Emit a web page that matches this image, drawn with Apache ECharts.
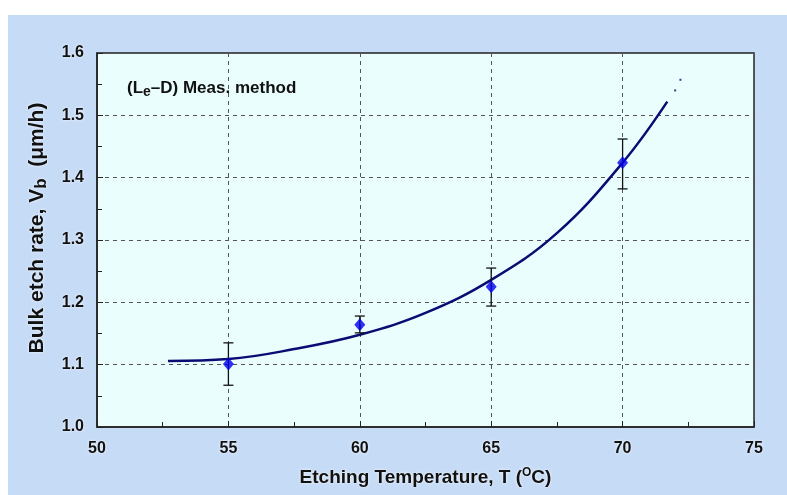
<!DOCTYPE html>
<html>
<head>
<meta charset="utf-8">
<script src="https://cdn.jsdelivr.net/npm/echarts@6/dist/echarts.min.js"></script>
<style>
  html, body { margin: 0; padding: 0; background: #fff; }
  #wrap { position: relative; width: 787px; height: 495px; }
  #bg { position: absolute; left: 8px; top: 15px; right: 0; bottom: 0; background: #c6dbf6; }
  #chart { position: absolute; left: 0; top: 0; width: 787px; height: 495px; }
</style>
</head>
<body>
<div id="wrap"><div id="bg"></div><div id="chart"></div></div>
<script>
// measured points
var temps = [55, 60, 65, 70];
var rates = [1.101, 1.164, 1.225, 1.424];
var errLow = [1.067, 1.151, 1.194, 1.382];
var errHigh = [1.135, 1.178, 1.255, 1.462];

// fitted curve
var fitX = [52.7, 55, 57.5, 60, 62.5, 65, 67.5, 70, 71.7];
var fitY = [1.106, 1.109, 1.125, 1.148, 1.183, 1.236, 1.311, 1.424, 1.522];
var tailX = [72.0, 72.2];
var tailY = [1.54, 1.557];

var xTicks = [50, 55, 60, 65, 70, 75];
var yTicks = [1.0, 1.1, 1.2, 1.3, 1.4, 1.5, 1.6];

var FONT = '"Liberation Sans", Arial, sans-serif';
var glow = { textShadowColor: 'rgba(255,255,255,0.95)', textShadowBlur: 3 };

var myChart = echarts.init(document.getElementById('chart'), null, { renderer: 'canvas' });

var fitData = fitX.map(function (x, i) { return [x, fitY[i]]; });
var tailData = tailX.map(function (x, i) { return [x, tailY[i]]; });
var pts = temps.map(function (x, i) { return [x, rates[i]]; });
var errData = temps.map(function (x, i) { return [x, errLow[i], errHigh[i]]; });

var option = {
  backgroundColor: 'transparent',
  animation: false,
  title: {
    text: '(L{s|e}–D) Meas. method',
    left: 122, top: 72,
    textStyle: {
      fontFamily: FONT, fontSize: 17, fontWeight: 'bold', color: '#111',
      rich: {
        s: { fontFamily: FONT, fontSize: 14, fontWeight: 'bold', color: '#111', padding: [8, 0, 0, 0] }
      }
    }
  },
  grid: {
    left: 97, top: 53, right: 33, bottom: 68,
    show: true, backgroundColor: '#ebfefe', borderColor: '#222', borderWidth: 1.5
  },
  xAxis: {
    type: 'value', min: 50, max: 75, interval: 5,
    name: 'Etching Temperature, T ({s|O}C)',
    nameLocation: 'middle', nameGap: 40,
    nameTextStyle: Object.assign({
      fontFamily: FONT, fontSize: 19, fontWeight: 'bold', color: '#111',
      rich: { s: { fontFamily: FONT, fontSize: 12, fontWeight: 'bold', color: '#111', padding: [0, 0, 9, 0] } }
    }, glow),
    axisLine: { show: true, lineStyle: { color: '#222', width: 1.5 } },
    axisTick: { show: true, inside: true, length: 6, lineStyle: { color: '#222' } },
    minorTick: { show: true, splitNumber: 2, length: 5, lineStyle: { color: '#222' } },
    axisLabel: Object.assign({
      fontFamily: FONT, fontSize: 16, fontWeight: 'bold', color: '#111', margin: 14,
      formatter: function (v) { return xTicks.indexOf(v) >= 0 ? String(v) : ''; }
    }, glow),
    splitLine: { show: true, lineStyle: { color: '#555', type: [4, 4], width: 1 } }
  },
  yAxis: {
    type: 'value', min: 1.0, max: 1.6, interval: 0.1,
    name: '{n|Bulk etch rate, V}{s|b}{n|  (μm/h)}',
    nameLocation: 'middle', nameGap: 47,
    nameTextStyle: Object.assign({
      fontFamily: FONT, fontSize: 21, fontWeight: 'bold', color: '#111',
      padding: [0, 0, 0, 24],
      rich: {
        n: { fontFamily: FONT, fontSize: 21, fontWeight: 'bold', color: '#111' },
        s: { fontFamily: FONT, fontSize: 17, fontWeight: 'bold', color: '#111', padding: [9, 0, 0, 0] }
      }
    }, glow),
    axisLine: { show: true, lineStyle: { color: '#222', width: 1.5 } },
    axisTick: { show: true, inside: true, length: 6, lineStyle: { color: '#222' } },
    minorTick: { show: true, splitNumber: 2, length: 5, lineStyle: { color: '#222' } },
    axisLabel: Object.assign({
      fontFamily: FONT, fontSize: 16, fontWeight: 'bold', color: '#111', margin: 13,
      formatter: function (v) { return v.toFixed(1); }
    }, glow),
    splitLine: { show: true, lineStyle: { color: '#555', type: [4, 4], width: 1 } }
  },
  series: [
    {
      name: 'fit', type: 'line', data: fitData, smooth: 0.4,
      showSymbol: false, lineStyle: { color: '#0b0b73', width: 2.5 }, z: 3
    },
    {
      name: 'tail', type: 'scatter', data: tailData, symbol: 'rect', symbolSize: 2,
      itemStyle: { color: '#0b0b73' }, z: 3
    },
    {
      name: 'errors', type: 'custom', data: errData, z: 4,
      renderItem: function (params, api) {
        var x = api.value(0);
        var lo = api.coord([x, api.value(1)]);
        var hi = api.coord([x, api.value(2)]);
        var cap = 5;
        var st = { stroke: '#111', lineWidth: 1.3 };
        return {
          type: 'group',
          children: [
            { type: 'line', shape: { x1: lo[0], y1: lo[1], x2: hi[0], y2: hi[1] }, style: st },
            { type: 'line', shape: { x1: hi[0] - cap, y1: hi[1], x2: hi[0] + cap, y2: hi[1] }, style: st },
            { type: 'line', shape: { x1: lo[0] - cap, y1: lo[1], x2: lo[0] + cap, y2: lo[1] }, style: st }
          ]
        };
      }
    },
    {
      name: 'measured', type: 'scatter', data: pts, symbol: 'diamond', symbolSize: [11, 13],
      itemStyle: { color: '#0000ee' }, z: 5
    }
  ]
};

myChart.setOption(option);
</script>
</body>
</html>
